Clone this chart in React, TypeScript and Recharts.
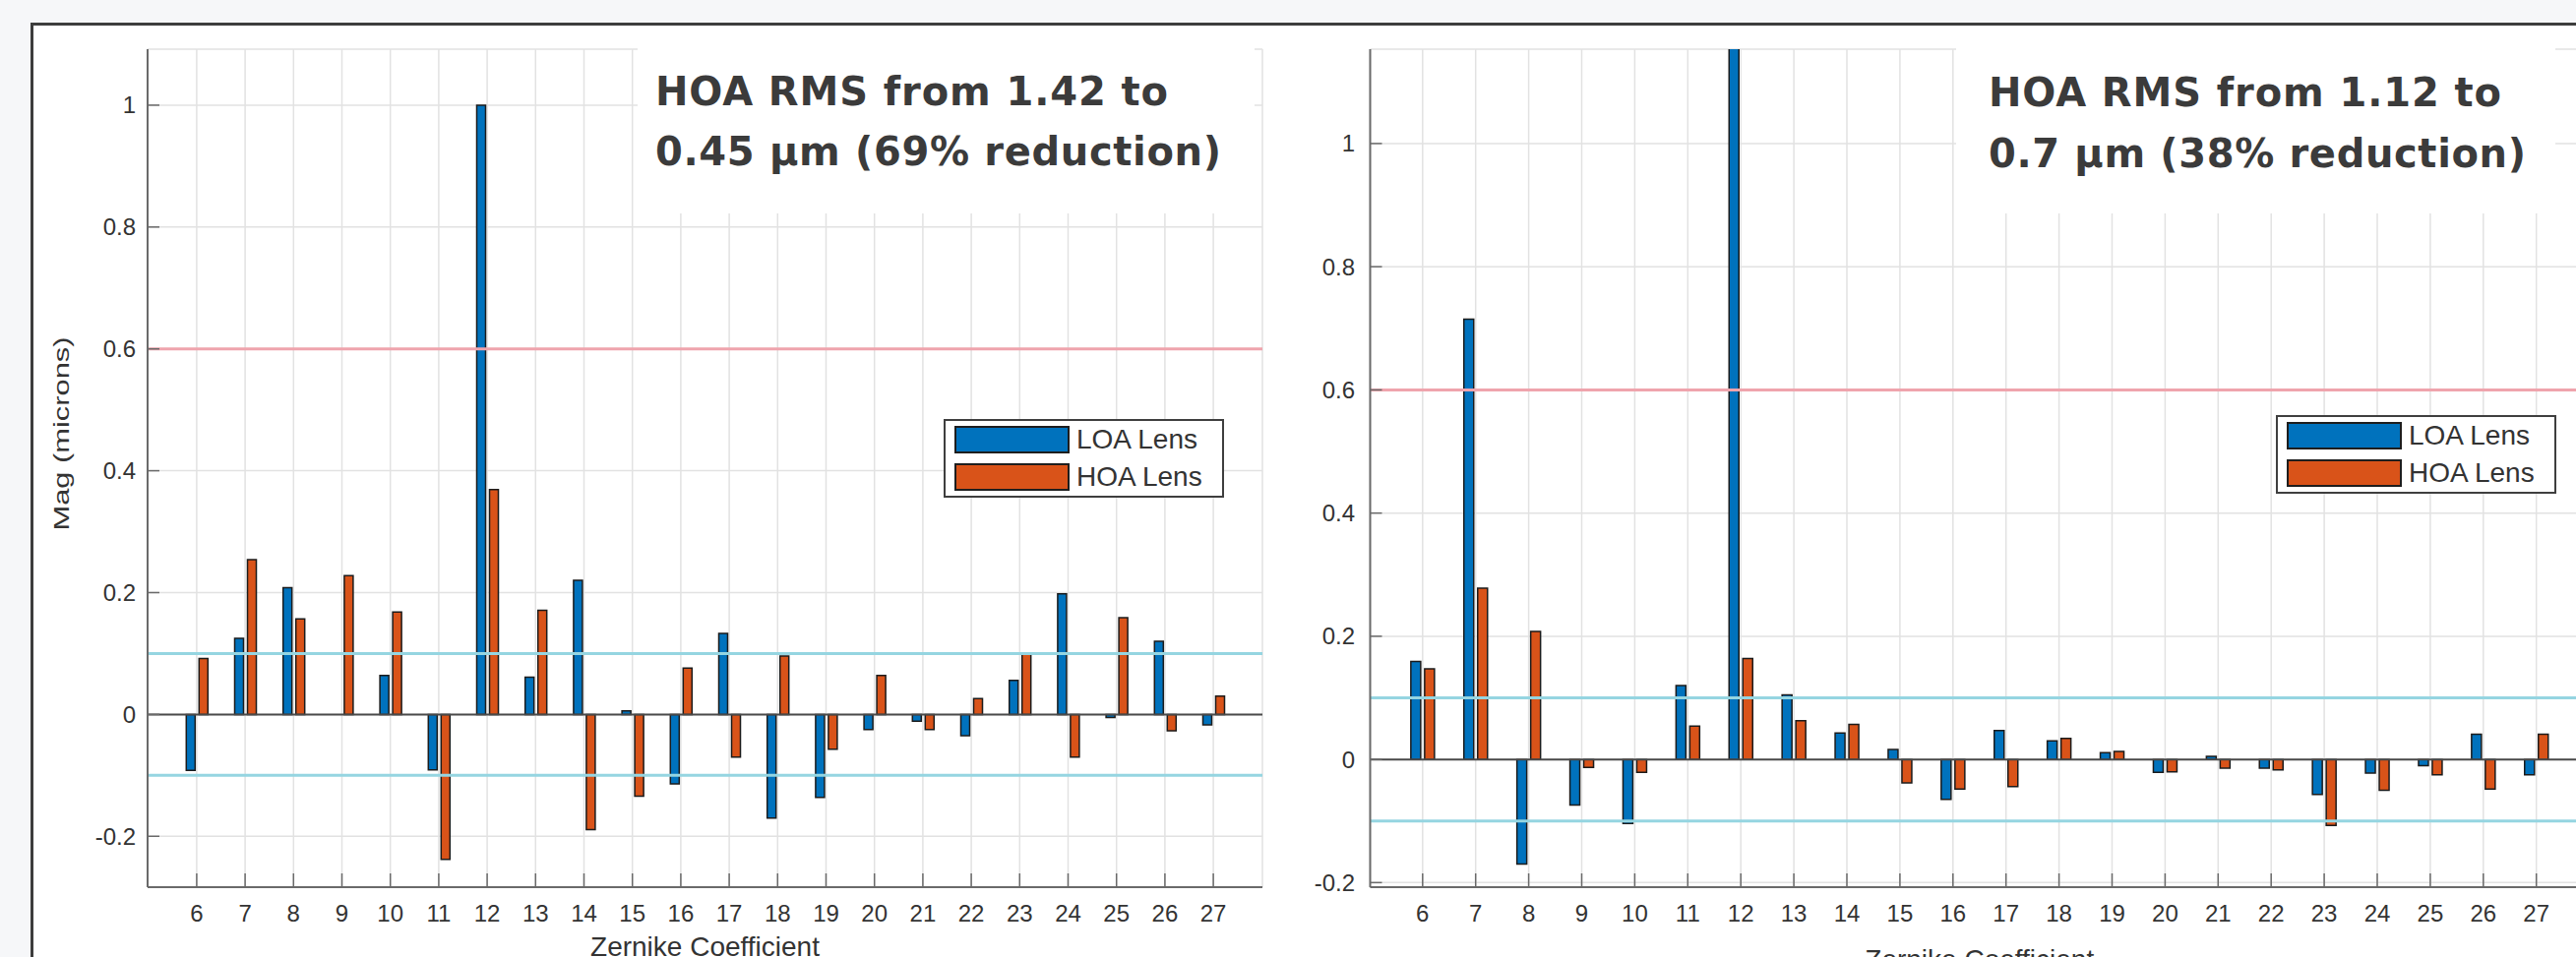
import React from "react";
import { BarChart, Bar, XAxis, YAxis, CartesianGrid, ReferenceLine, Legend } from "recharts";

// Zernike terms on the x axis
const zernikeTerms = ["6", "7", "8", "9", "10", "11", "12", "13", "14", "15", "16", "17", "18", "19", "20", "21", "22", "23", "24", "25", "26", "27"];
const yTicks = [-0.2, 0, 0.2, 0.4, 0.6, 0.8, 1];

// left panel (HOA RMS 1.42 -> 0.45)
const loaLeft = [-0.092, 0.125, 0.208, 0, 0.064, -0.091, 1.0, 0.061, 0.22, 0.006, -0.114, 0.133, -0.17, -0.136, -0.025, -0.011, -0.035, 0.056, 0.198, -0.005, 0.12, -0.017];
const hoaLeft = [0.092, 0.254, 0.157, 0.228, 0.168, -0.238, 0.369, 0.171, -0.189, -0.134, 0.076, -0.07, 0.096, -0.057, 0.064, -0.025, 0.026, 0.099, -0.07, 0.159, -0.027, 0.03];

// right panel (HOA RMS 1.12 -> 0.7)
const loaRight = [0.159, 0.715, -0.17, -0.074, -0.104, 0.12, 1.25, 0.105, 0.043, 0.016, -0.065, 0.047, 0.03, 0.011, -0.021, 0.005, -0.014, -0.057, -0.022, -0.01, 0.041, -0.025];
const hoaRight = [0.147, 0.278, 0.208, -0.013, -0.021, 0.054, 0.164, 0.063, 0.057, -0.038, -0.048, -0.044, 0.034, 0.013, -0.02, -0.014, -0.017, -0.107, -0.05, -0.025, -0.048, 0.041];

const leftNote = ["HOA RMS from 1.42 to", "0.45 µm (69% reduction)"];
const rightNote = ["HOA RMS from 1.12 to", "0.7 µm (38% reduction)"];

const seriesOrder = ["loa", "hoa"];

const LOA_COLOR = "#0072BD";
const HOA_COLOR = "#D95319";
const AXIS_COLOR = "#6a6a6a";
const FONT = '"Liberation Sans", Arial, sans-serif';

const buildRows = (loa: number[], hoa: number[]) =>
  zernikeTerms.map((term, i) => ({ term, loa: loa[i], hoa: hoa[i] }));

const LegendBox = ({ payload }: any) => {
  const items = [...(payload || [])].sort(
    (a: any, b: any) => seriesOrder.indexOf(a.dataKey) - seriesOrder.indexOf(b.dataKey)
  );
  return (
    <div
      style={{
        border: "2px solid #3f3f3f",
        background: "#fff",
        padding: "5px 20px 5px 9px",
        display: "flex",
        flexDirection: "column",
        gap: 10,
      }}
    >
      {items.map((p: any) => (
        <div key={p.value} style={{ display: "flex", alignItems: "center", height: 28 }}>
          <span
            style={{
              display: "inline-block",
              width: 113,
              height: 24,
              background: p.color,
              border: "2px solid #1e1e1e",
            }}
          />
          <span style={{ marginLeft: 7, fontSize: 28, lineHeight: "28px", color: "#333", fontFamily: FONT }}>
            {p.value}
          </span>
        </div>
      ))}
    </div>
  );
};

interface PanelProps {
  loa: number[];
  hoa: number[];
  width: number;
  margin: { top: number; right: number; bottom: number; left: number };
  yAxisWidth: number;
  yDomain: [number, number];
  pad: number;
  barSize: number;
  tickMargin: number;
  legendPos: { left: number; top: number };
  xLabelDrop: number;
  showYLabel?: boolean;
}

function ZernikePanel(props: PanelProps) {
  const data = buildRows(props.loa, props.hoa);
  return (
    <BarChart
      width={props.width}
      height={973}
      data={data}
      margin={props.margin}
      barSize={props.barSize}
      barGap={4}
      style={{ fontFamily: FONT }}
    >
      <CartesianGrid stroke="#e2e2e2" strokeWidth={1.5} />
      <XAxis
        dataKey="term"
        height={40}
        interval={0}
        padding={{ left: props.pad, right: props.pad }}
        axisLine={{ stroke: AXIS_COLOR, strokeWidth: 2 }}
        tickLine={{ stroke: AXIS_COLOR, strokeWidth: 1.5 }}
        tickSize={-14}
        tickMargin={32}
        tick={{ fontSize: 24, fill: "#333" }}
        label={(lp: any) => (
          <text
            x={lp.viewBox.x + lp.viewBox.width / 2}
            y={lp.viewBox.y + props.xLabelDrop}
            textAnchor="middle"
            fontSize={28}
            fill="#333"
            fontFamily={FONT}
          >
            Zernike Coefficient
          </text>
        )}
      />
      <YAxis
        width={props.yAxisWidth}
        domain={props.yDomain}
        allowDataOverflow
        ticks={yTicks}
        tickFormatter={(v: number) => String(v)}
        axisLine={{ stroke: AXIS_COLOR, strokeWidth: 2 }}
        tickLine={{ stroke: AXIS_COLOR, strokeWidth: 1.5 }}
        tickSize={-12}
        tickMargin={props.tickMargin}
        tick={{ fontSize: 24, fill: "#333" }}
        label={
          props.showYLabel
            ? (lp: any) => {
                // label sits a little above the middle of the axis, stretched like the original
                const cx = lp.viewBox.x + 20;
                const cy = lp.viewBox.y + lp.viewBox.height / 2 - 35;
                return (
                  <text
                    x={cx}
                    y={cy}
                    transform={`rotate(-90, ${cx}, ${cy})`}
                    textAnchor="middle"
                    fontSize={22}
                    textLength={197}
                    lengthAdjust="spacingAndGlyphs"
                    fill="#333"
                    fontFamily={FONT}
                  >
                    Mag (microns)
                  </text>
                );
              }
            : undefined
        }
      />
      <ReferenceLine y={0.6} stroke="#efa4ad" strokeWidth={3} />
      <ReferenceLine y={0.1} stroke="#95d5e1" strokeWidth={3} />
      <ReferenceLine y={-0.1} stroke="#95d5e1" strokeWidth={3} />
      <Legend
        layout="horizontal"
        verticalAlign="middle"
        align="center"
        content={<LegendBox />}
        wrapperStyle={{ left: props.legendPos.left, top: props.legendPos.top, width: "auto" }}
      />
      <Bar dataKey="loa" name="LOA Lens" fill={LOA_COLOR} stroke="#1b1b1b" strokeWidth={1.5} isAnimationActive={false} />
      <Bar dataKey="hoa" name="HOA Lens" fill={HOA_COLOR} stroke="#1b1b1b" strokeWidth={1.5} isAnimationActive={false} />
      <ReferenceLine y={0} stroke="#4a4a4a" strokeWidth={2} />
    </BarChart>
  );
}

const noteText = {
  fontFamily: '"DejaVu Sans", sans-serif',
  fontWeight: 700,
  fontSize: 40,
  fill: "#3b3b3b",
};

export default function App() {
  return (
    <div
      style={{
        position: "relative",
        width: 2618,
        height: 973,
        overflow: "hidden",
        background: "#f6f7f9",
        fontFamily: FONT,
      }}
    >
      <style>{"body{margin:0}"}</style>
      {/* figure frame */}
      <div
        style={{
          position: "absolute",
          left: 31,
          top: 23,
          width: 2700,
          height: 1100,
          border: "3px solid #3d3d3d",
          background: "#fff",
        }}
      />
      <div style={{ position: "absolute", left: 0, top: 0 }}>
        <ZernikePanel
          loa={loaLeft}
          hoa={hoaLeft}
          width={1300}
          margin={{ top: 50, right: 17, bottom: 31, left: 50 }}
          yAxisWidth={100}
          yDomain={[-0.2835, 1.0919]}
          pad={25.3}
          barSize={9}
          tickMargin={24}
          legendPos={{ left: 959, top: 426 }}
          xLabelDrop={70}
          showYLabel
        />
      </div>
      <div style={{ position: "absolute", left: 1300, top: 0 }}>
        <ZernikePanel
          loa={loaRight}
          hoa={hoaRight}
          width={1340}
          margin={{ top: 50, right: 9, bottom: 31, left: 12.5 }}
          yAxisWidth={80}
          yDomain={[-0.2074, 1.1532]}
          pad={26.35}
          barSize={10}
          tickMargin={27.5}
          legendPos={{ left: 1013, top: 422 }}
          xLabelDrop={83}
        />
      </div>
      {/* annotation boxes */}
      <svg width={2618} height={973} style={{ position: "absolute", left: 0, top: 0, pointerEvents: "none" }}>
        <rect x={648} y={48} width={627} height={169} fill="#fff" />
        <text x={666} y={107} textLength={521} lengthAdjust="spacing" {...noteText}>
          {leftNote[0]}
        </text>
        <text x={666} y={168} textLength={575} lengthAdjust="spacing" {...noteText}>
          {leftNote[1]}
        </text>
        <rect x={1988} y={48} width={609} height={169} fill="#fff" />
        <text x={2021} y={108} textLength={521} lengthAdjust="spacing" {...noteText}>
          {rightNote[0]}
        </text>
        <text x={2021} y={170} textLength={546} lengthAdjust="spacing" {...noteText}>
          {rightNote[1]}
        </text>
      </svg>
    </div>
  );
}
